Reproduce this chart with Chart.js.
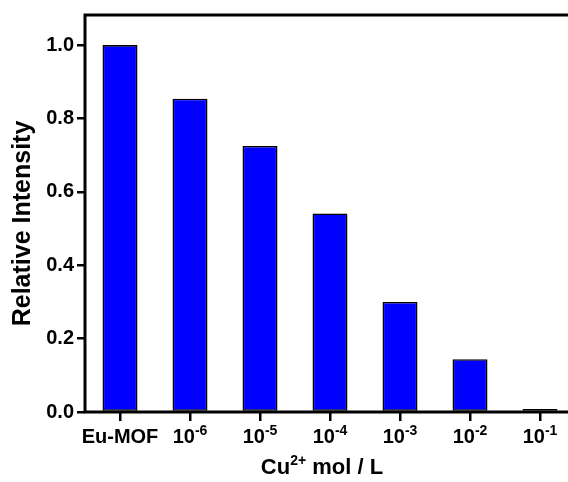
<!DOCTYPE html>
<html>
<head>
<meta charset="utf-8">
<script src="https://cdn.jsdelivr.net/npm/chart.js@4.4.0/dist/chart.umd.min.js"></script>
<style>
    html, body { margin: 0; padding: 0; background: #fff; overflow: hidden; }
    .wrap { width: 580px; height: 482px; }
</style>
</head>
<body>
<div class="wrap"><canvas id="chart" width="580" height="482"></canvas></div>
<script>
// data
var categories = ['Eu-MOF', '10^-6', '10^-5', '10^-4', '10^-3', '10^-2', '10^-1'];
var intensity = [1.0, 0.854, 0.725, 0.541, 0.300, 0.144, 0.008];
var yTicks = [0, 0.2, 0.4, 0.6, 0.8, 1.0];
var xTitle = ['Cu', '2+', ' mol / L'];
var yTitle = 'Relative Intensity';

var FONT = '"Liberation Sans", Arial, sans-serif';

// draws base + superscript + rest, centred on x
function supText(ctx, base, sup, rest, x, y, big, small, rise) {
    ctx.font = 'bold ' + big + 'px ' + FONT;
    var w1 = ctx.measureText(base).width;
    var w3 = rest ? ctx.measureText(rest).width : 0;
    ctx.font = 'bold ' + small + 'px ' + FONT;
    var w2 = ctx.measureText(sup).width;
    var sx = x - (w1 + w2 + w3) / 2;
    ctx.textAlign = 'left';
    ctx.font = 'bold ' + big + 'px ' + FONT;
    ctx.fillText(base, sx, y);
    ctx.font = 'bold ' + small + 'px ' + FONT;
    ctx.fillText(sup, sx + w1, y - rise);
    if (rest) {
        ctx.font = 'bold ' + big + 'px ' + FONT;
        ctx.fillText(rest, sx + w1 + w2, y);
    }
}

var labelsPlugin = {
    id: 'labels',
    afterDraw: function(chart) {
        var ctx = chart.ctx;
        var a = chart.chartArea;
        var xs = chart.scales.x;
        ctx.save();
        // frame
        ctx.strokeStyle = '#000';
        ctx.lineWidth = 3;
        ctx.strokeRect(a.left, a.top, a.right - a.left, a.bottom - a.top);

        ctx.fillStyle = '#000';
        ctx.textBaseline = 'alphabetic';
        // x tick labels
        categories.forEach(function(c, i) {
            var x = xs.getPixelForTick(i);
            var y = a.bottom + 31;
            var parts = c.split('^');
            if (parts.length == 1) {
                ctx.font = 'bold 20px ' + FONT;
                ctx.textAlign = 'center';
                ctx.fillText(c, x, y);
            } else {
                supText(ctx, parts[0], parts[1], '', x, y, 20, 14, 8);
            }
        });
        // x title
        supText(ctx, xTitle[0], xTitle[1], xTitle[2], (a.left + a.right) / 2 - 8, a.bottom + 62, 22, 14, 9);

        // y title
        ctx.translate(23, (a.top + a.bottom) / 2 + 10);
        ctx.rotate(-Math.PI / 2);
        ctx.font = 'bold 25px ' + FONT;
        ctx.textAlign = 'center';
        ctx.textBaseline = 'middle';
        ctx.fillText(yTitle, 0, 0);
        ctx.restore();
    }
};

var ctx = document.getElementById('chart').getContext('2d');
var chart = new Chart(ctx, {
    type: 'bar',
    data: {
        labels: categories,
        datasets: [{
            data: intensity,
            backgroundColor: '#0000ff',
            borderColor: '#000',
            borderWidth: 1.6,
            borderSkipped: false,
            barPercentage: 0.5,
            categoryPercentage: 1.0
        }]
    },
    plugins: [labelsPlugin],
    options: {
        responsive: false,
        animation: false,
        layout: { padding: { top: 15, right: 5, left: 0, bottom: 0 } },
        plugins: {
            legend: { display: false },
            tooltip: { enabled: false }
        },
        scales: {
            x: {
                offset: true,
                border: { display: false },
                grid: {
                    offset: false,
                    drawOnChartArea: false,
                    tickLength: 9,
                    tickColor: '#000',
                    lineWidth: 2.5
                },
                ticks: { display: false },
                afterFit: function(s) { s.height = 70; }
            },
            y: {
                min: 0,
                max: 1.082,
                border: { display: false },
                grid: {
                    drawOnChartArea: false,
                    tickLength: 8,
                    tickColor: '#000',
                    lineWidth: 2.5
                },
                afterBuildTicks: function(s) {
                    s.ticks = yTicks.map(function(v) { return { value: v }; });
                },
                ticks: {
                    padding: 3,
                    color: '#000',
                    font: { family: FONT, size: 20, weight: 'bold' },
                    callback: function(v) { return Number(v).toFixed(1); }
                },
                afterFit: function(s) { s.width = 85; }
            }
        }
    }
});
</script>
</body>
</html>
